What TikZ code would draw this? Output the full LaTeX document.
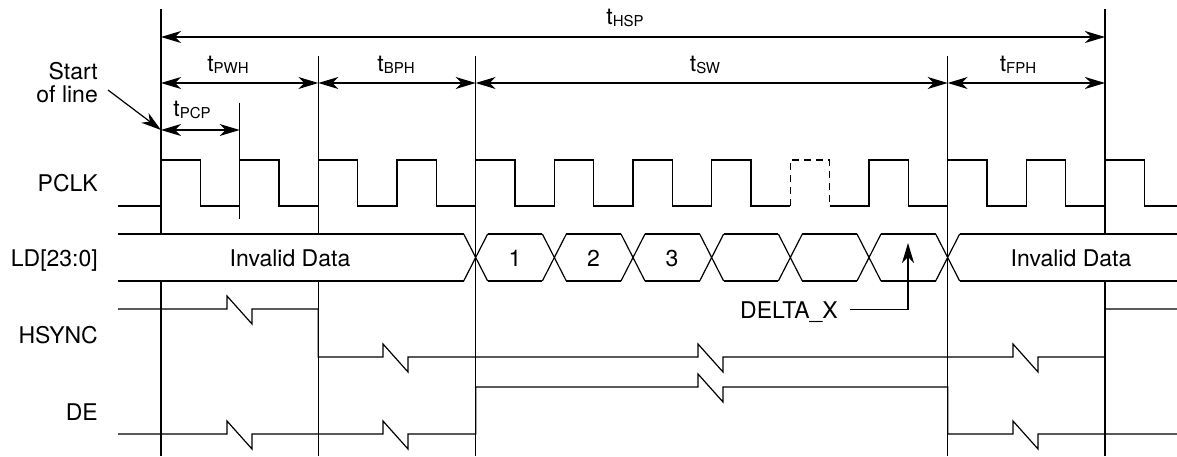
\documentclass[tikz,border=0pt]{standalone}
\usepackage{fontspec}
\setmainfont{TeX Gyre Heros}
\usetikzlibrary{arrows.meta}
\newcommand\tsub[1]{t\raisebox{-2pt}{\fontsize{15}{15}\selectfont #1}}
\tikzset{ltip/.tip={Stealth[length=20pt,width=12pt,inset=6pt]}}
\begin{document}
\begin{tikzpicture}[x=1pt,y=-1pt,
  sig/.style={line width=1.2pt},
  dim/.style={line width=1.2pt,{ltip}-{ltip}},
  lab/.style={font=\fontsize{23}{27}\selectfont, inner sep=0pt}]
\useasboundingbox (0,0) rectangle (1177,457);
\def\P{78.6667}
\def\H{39.3333}
% marker coordinates
\coordinate (m0) at (161,9);
\coordinate (m0a) at (161,234);
\coordinate (m0c) at (161,281);
\coordinate (m0b) at (161,456);
\coordinate (m2) at (318.333,56);
\coordinate (m2a) at (318.333,234);
\coordinate (m2c) at (318.333,281);
\coordinate (m2b) at (318.333,456);
\coordinate (m4) at (475.667,56);
\coordinate (m4b) at (475.667,456);
\coordinate (m10) at (947.667,56);
\coordinate (m10b) at (947.667,456);
\coordinate (m12) at (1105,9);
\coordinate (m12a) at (1105,234);
\coordinate (m12c) at (1105,281);
\coordinate (m12b) at (1105,456);
\coordinate (m1) at (239.667,103);
\coordinate (m1b) at (239.667,219);
\draw[sig] (m0) -- (m0a) (m0c) -- (m0b);
\draw[sig] (m2) -- (m2a) (m2c) -- (m2b);
\draw[sig] (m4) -- (m4b);
\draw[sig] (m10) -- (m10b);
\draw[sig] (m12) -- (m12a) (m12c) -- (m12b);
\draw[sig] (m1) -- (m1b);
% dimension arrows
\coordinate (aHl) at (161,37);
\coordinate (aHr) at (1105,37);
\draw[dim] (aHl) -- (aHr);
\coordinate (a0) at (161,83);
\coordinate (a2) at (318.333,83);
\coordinate (a4) at (475.667,83);
\coordinate (a10) at (947.667,83);
\coordinate (a12) at (1105,83);
\draw[dim] (a0) -- (a2);
\draw[dim] (a2) -- (a4);
\draw[dim] (a4) -- (a10);
\draw[dim] (a10) -- (a12);
\coordinate (p0) at (161,130);
\coordinate (p1) at (239.667,130);
\draw[dim] (p0) -- (p1);
% timing labels
\node[lab,anchor=base] (tHSP) at (625,25) {\tsub{HSP}};
\node[lab,anchor=base] (tPWH) at (228,72) {\tsub{PWH}};
\node[lab,anchor=base] (tBPH) at (396,72) {\tsub{BPH}};
\node[lab,anchor=base] (tSW) at (705,72) {\tsub{SW}};
\node[lab,anchor=base] (tFPH) at (1018,72) {\tsub{FPH}};
\node[lab,anchor=base] (tPCP) at (192,117) {\tsub{PCP}};
% start of line
\node[lab,anchor=base east] (st1) at (98,80) {Start};
\node[lab,anchor=base east] (st2) at (98,103) {of line};
\coordinate (sa) at (108,90);
\draw[sig,-{ltip}] (sa) -- (p0);
% signal names
\node[lab,anchor=base east] (nP) at (98,192) {PCLK};
\node[lab,anchor=base east] (nL) at (98,266) {LD[23:0]};
\node[lab,anchor=base east] (nH) at (98,343) {HSYNC};
\node[lab,anchor=base east] (nD) at (98,420) {DE};
% PCLK
\draw[sig] (118,206) -- (161,206)
  \foreach \k in {0,...,7} { -- ({161+\k*\P},206) -- ({161+\k*\P},160) -- ({161+\k*\P+\H},160) -- ({161+\k*\P+\H},206) }
  -- (790.333,206);
\draw[sig,dash pattern=on 7pt off 5pt] (790.333,206) -- (790.333,160) -- (829.667,160) -- (829.667,206);
\draw[sig] (829.667,206) -- (869,206)
  \foreach \k in {9,...,12} { -- ({161+\k*\P},206) -- ({161+\k*\P},160) -- ({161+\k*\P+\H},160) -- ({161+\k*\P+\H},206) }
  -- (1177,206);
% LD bus
\foreach \k in {4,...,10} {
  \draw[sig] ({161+\k*\P-12},234) -- ({161+\k*\P+12},281)
             ({161+\k*\P-12},281) -- ({161+\k*\P+12},234);
}
\foreach \k in {4,...,9} {
  \draw[sig] ({161+\k*\P+12},234) -- ({161+(\k+1)*\P-12},234)
             ({161+\k*\P+12},281) -- ({161+(\k+1)*\P-12},281);
}
\draw[sig] (118,234) -- (463.667,234) (118,281) -- (463.667,281);
\draw[sig] (959.667,234) -- (1177,234) (959.667,281) -- (1177,281);
\node[lab,anchor=base] (inv1) at (290,266) {Invalid Data};
\node[lab,anchor=base] (inv2) at (1071,266) {Invalid Data};
\node[lab,anchor=base] (d1) at (515,266) {1};
\node[lab,anchor=base] (d2) at (593.5,266) {2};
\node[lab,anchor=base] (d3) at (672,266) {3};
% DELTA_X
\node[lab,anchor=base east] (dx) at (838,318) {DELTA\_X};
\coordinate (dx1) at (850,309.5);
\coordinate (dx2) at (908,309.5);
\coordinate (dx3) at (908,243);
\draw[sig,-{ltip}] (dx1) -- (dx2) -- (dx3);
% HSYNC
\draw[sig] (118,309) -- (227,309) -- (227,296) -- (252,324) -- (252,309) -- (318.333,309)
  -- (318.333,357) -- (383,357) -- (383,344) -- (408,372) -- (408,357)
  -- (698,357) -- (698,344) -- (723,372) -- (723,357)
  -- (1013,357) -- (1013,344) -- (1038,372) -- (1038,357)
  -- (1105,357) -- (1105,309) -- (1177,309);
% DE
\draw[sig] (118,434) -- (227,434) -- (227,421) -- (252,449) -- (252,434)
  -- (383,434) -- (383,421) -- (408,449) -- (408,434)
  -- (475.667,434) -- (475.667,387) -- (698,387) -- (698,374) -- (723,402) -- (723,387)
  -- (947.667,387) -- (947.667,434) -- (1013,434) -- (1013,421) -- (1038,449) -- (1038,434)
  -- (1177,434);
\end{tikzpicture}
\end{document}
